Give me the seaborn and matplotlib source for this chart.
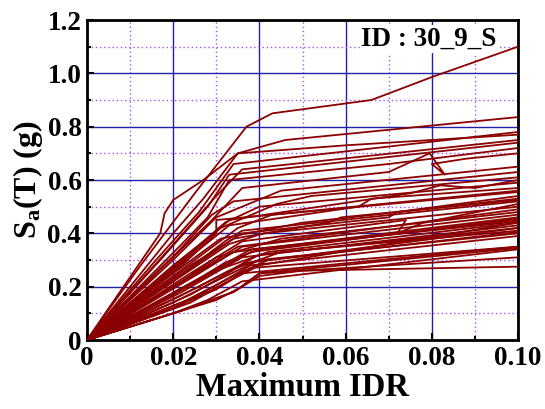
import matplotlib
matplotlib.use("Agg")
import matplotlib.pyplot as plt
import seaborn as sns
import pandas as pd
from matplotlib.ticker import MultipleLocator, FuncFormatter

# IDA curves: max IDR (x) vs Sa(T) (y), one list per record
idr_pts = [
    [0, .012, .025, .037, .043, .066, .080, .100],
    [0, .010, .017, .018, .020, .027, .035, .060, .100],
    [0, .020, .027, .035, .046, .100],
    [0, .016, .026, .034, .100],
    [0, .019, .030, .036, .100],
    [0, .017, .028, .033, .100],
    [0, .022, .028, .033, .070, .100],
    [0, .018, .029, .036, .070, .0795, .083, .080, .088, .100],
    [0, .020, .030, .045, .100],
    [0, .021, .029, .034, .100],
    [0, .020, .031, .044, .052, .100],
    [0, .024, .033, .075, .082, .090, .100],
    [0, .022, .032, .040, .100],
    [0, .023, .033, .063, .066, .100],
    [0, .025, .035, .043, .100],
    [0, .022, .030, .030, .100],
    [0, .024, .036, .070, .072, .100],
    [0, .020, .031, .050, .100],
    [0, .025, .034, .056, .059, .100],
    [0, .023, .032, .036, .100],
    [0, .024, .036, .074, .072, .078, .100],
    [0, .021, .033, .041, .100],
    [0, .024, .035, .100],
    [0, .022, .030, .045, .100],
    [0, .026, .036, .100],
    [0, .020, .034, .100],
    [0, .025, .038, .100],
    [0, .023, .032, .040, .100],
    [0, .027, .038, .100],
    [0, .020, .030, .042, .100],
    [0, .022, .036, .100],
    [0, .026, .040, .100],
    [0, .021, .033, .045, .100],
    [0, .024, .037, .100],
    [0, .020, .031, .040, .100],
    [0, .025, .038, .100],
    [0, .022, .034, .042, .100],
    [0, .028, .040, .100],
    [0, .020, .030, .038, .100],
    [0, .024, .036, .100],
    [0, .020, .028, .036, .100],
    [0, .022, .034, .040, .100],
    [0, .020, .030, .036, .040, .100],
    [0, .020, .027, .034, .040, .050, .100],
]
sa_pts = [
    [0, .27, .55, .80, .85, .90, .986, 1.10],
    [0, .236, .40, .475, .525, .60, .70, .73, .77],
    [0, .40, .53, .70, .75, .836],
    [0, .30, .48, .66, .78],
    [0, .34, .54, .64, .75],
    [0, .30, .50, .62, .74],
    [0, .36, .46, .60, .66, .72],
    [0, .28, .45, .57, .63, .70, .62, .66, .68, .70],
    [0, .30, .46, .56, .65],
    [0, .33, .47, .52, .63],
    [0, .28, .42, .51, .54, .61],
    [0, .32, .45, .55, .58, .57, .60],
    [0, .30, .44, .50, .59],
    [0, .30, .43, .50, .53, .57],
    [0, .30, .42, .47, .56],
    [0, .28, .40, .45, .555],
    [0, .28, .40, .46, .48, .54],
    [0, .25, .38, .44, .53],
    [0, .28, .38, .44, .46, .525],
    [0, .26, .37, .41, .52],
    [0, .25, .37, .45, .40, .44, .51],
    [0, .23, .36, .40, .50],
    [0, .24, .35, .49],
    [0, .22, .31, .38, .48],
    [0, .25, .35, .47],
    [0, .20, .33, .46],
    [0, .22, .33, .455],
    [0, .20, .29, .34, .45],
    [0, .24, .34, .445],
    [0, .17, .26, .33, .44],
    [0, .18, .31, .43],
    [0, .20, .32, .42],
    [0, .16, .26, .33, .41],
    [0, .17, .29, .405],
    [0, .14, .23, .30, .40],
    [0, .16, .28, .39],
    [0, .14, .24, .30, .42],
    [0, .18, .28, .44],
    [0, .12, .19, .27, .35],
    [0, .14, .25, .35],
    [0, .10, .15, .22, .34],
    [0, .11, .18, .25, .345],
    [0, .10, .15, .20, .25, .31],
    [0, .10, .14, .18, .24, .26, .275],
]
record_id = "ID : 30_9_S"

rows = []
for i, (xs, ys) in enumerate(zip(idr_pts, sa_pts)):
    for k, (xv, yv) in enumerate(zip(xs, ys)):
        rows.append({"rec": i, "step": k, "idr": xv, "sa": yv})
df = pd.DataFrame(rows)

sns.set_style("white")
plt.rcParams['font.family'] = ['Liberation Serif', 'DejaVu Serif']
plt.rcParams['font.weight'] = 'bold'
plt.rcParams['text.color'] = 'black'
plt.rcParams['axes.labelcolor'] = 'black'
plt.rcParams['xtick.color'] = 'black'
plt.rcParams['ytick.color'] = 'black'
plt.rcParams['mathtext.fontset'] = 'custom'
plt.rcParams['mathtext.rm'] = 'Liberation Serif:bold'
plt.rcParams['mathtext.it'] = 'Liberation Serif:bold'
plt.rcParams['mathtext.bf'] = 'Liberation Serif:bold'

fig = plt.figure(figsize=(5.45, 4.09), dpi=100)
ax = fig.add_axes([0.1596, 0.1687, 0.7909, 0.7824])

sns.lineplot(data=df, x="idr", y="sa", units="rec", estimator=None, sort=False,
             color="#8b0000", linewidth=1.3, ax=ax, zorder=3)

ax.set_xlim(0, 0.10)
ax.set_ylim(0, 1.2)
ax.xaxis.set_major_locator(MultipleLocator(0.02))
ax.xaxis.set_minor_locator(MultipleLocator(0.01))
ax.yaxis.set_major_locator(MultipleLocator(0.2))
ax.yaxis.set_minor_locator(MultipleLocator(0.1))
ax.xaxis.set_major_formatter(FuncFormatter(lambda v, p: "0" if abs(v) < 1e-9 else f"{v:.2f}"))
ax.yaxis.set_major_formatter(FuncFormatter(lambda v, p: "0" if abs(v) < 1e-9 else f"{v:.1f}"))

ax.grid(True, which="major", color="#2020a8", linewidth=1.0, linestyle="-", zorder=1)
ax.grid(True, which="minor", color="#a64dff", linewidth=1.0, linestyle=(0, (1, 2)), zorder=1)
ax.set_axisbelow(True)

ax.tick_params(which="both", direction="in", top=False, right=False, bottom=True, left=True,
               labelsize=19.5, pad=4, width=1.5, color="black", labelcolor="black")
ax.tick_params(which="major", length=5)
ax.tick_params(which="minor", length=3)
for lbl in ax.get_xticklabels() + ax.get_yticklabels():
    lbl.set_fontweight("bold")
for s in ax.spines.values():
    s.set_linewidth(2)
    s.set_color("black")

ax.set_xlabel("Maximum IDR", fontsize=23.5, fontweight="bold", labelpad=1)
ax.set_ylabel(r"S$_{\mathrm{a}}$(T) (g)", fontsize=23, fontweight="bold", labelpad=2)

ax.text(0.95, 0.94, record_id, transform=ax.transAxes, ha="right", va="center",
        fontsize=19.5, fontweight="bold", zorder=4,
        bbox=dict(facecolor="white", edgecolor="none", pad=1))

fig.savefig("out.png", dpi=100)
